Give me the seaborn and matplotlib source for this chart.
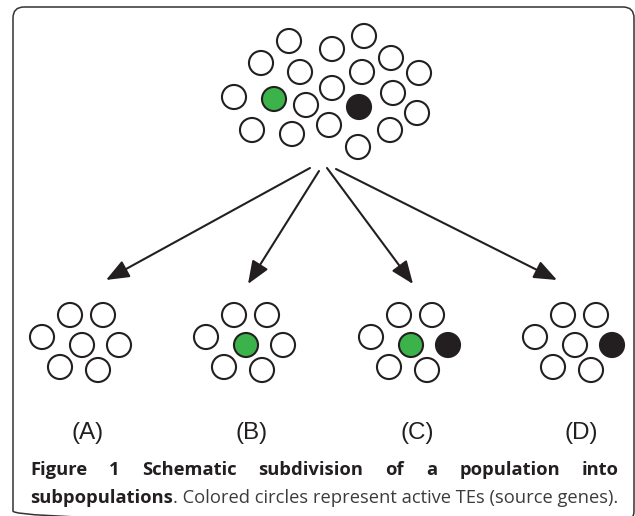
import numpy as np
import pandas as pd
import matplotlib
matplotlib.use("Agg")
import matplotlib.pyplot as plt
import seaborn as sns
from matplotlib.patches import FancyBboxPatch

#data: whole population (pixel coords of each TE circle), state 0=inactive 1=green 2=black
top_x = [289, 364, 332, 261, 300, 391, 362, 419, 234, 274, 306, 332, 359, 393, 417, 252, 292, 329, 390, 358]
top_y = [41, 36, 49, 63, 72, 58, 72, 73, 97, 99, 105, 88, 107, 93, 113, 130, 134, 125, 130, 147]
top_state = [0, 0, 0, 0, 0, 0, 0, 0, 0, 1, 0, 0, 2, 0, 0, 0, 0, 0, 0, 0]

#subpopulations: 7 circles each, offsets from the group's middle circle
sub_dx = [-12, 21, -40, 0, 37, -22, 16]
sub_dy = [-30, -30, -8, 0, 0, 22, 25]
group_x = [82, 246, 411, 575]
group_y = 345
group_labels = ["(A)", "(B)", "(C)", "(D)"]
group_states = [
    [0, 0, 0, 0, 0, 0, 0],
    [0, 0, 0, 1, 0, 0, 0],
    [0, 0, 0, 1, 2, 0, 0],
    [0, 0, 0, 0, 2, 0, 0],
]

#arrows from the population to each subpopulation
arrow_start_x = [310, 319, 327, 336]
arrow_start_y = [168, 171, 168, 169]
arrow_end_x = [106, 248, 413, 557]
arrow_end_y = [280, 284, 284, 280]

caption_line1 = ["Figure", "1", "Schematic", "subdivision", "of", "a", "population", "into"]
caption_bold2 = "subpopulations"
caption_rest2 = ". Colored circles represent active TEs (source genes)."

ink = "#231f20"
colors = {0: "white", 1: "#3bb34a", 2: ink}

#build one table of circles
rows = []
for x, y, s in zip(top_x, top_y, top_state):
    rows.append({"x": x, "y": y, "state": s})
for gx, states in zip(group_x, group_states):
    for dx, dy, s in zip(sub_dx, sub_dy, states):
        rows.append({"x": gx + dx, "y": group_y + dy, "state": s})
df = pd.DataFrame(rows)

sns.set_style("white")
fig = plt.figure(figsize=(6.35, 5.16), dpi=100)
ax = fig.add_axes([0, 0, 1, 1])
ax.set_xlim(0, 635)
ax.set_ylim(516, 0)
ax.axis("off")

#frame
frame = FancyBboxPatch((13, 7), 621, 515, boxstyle="round,pad=0,rounding_size=11",
                       fc="none", ec="#333333", lw=1.1)
ax.add_patch(frame)

sns.scatterplot(data=df, x="x", y="y", hue="state", palette=colors, s=300,
                edgecolor=ink, linewidth=1.5, legend=False, ax=ax, zorder=3)

for x0, y0, x1, y1 in zip(arrow_start_x, arrow_start_y, arrow_end_x, arrow_end_y):
    ax.annotate("", xy=(x1, y1), xytext=(x0, y0),
                arrowprops=dict(arrowstyle="-|>,head_length=1.0,head_width=0.4",
                                mutation_scale=14, lw=1.5, color=ink,
                                shrinkA=0, shrinkB=0))

for gx, lab in zip(group_x, group_labels):
    ax.text(gx + 6, 433, lab, ha="center", va="center", fontsize=17.5,
            family="Liberation Sans", color=ink)

#caption, first line justified between left and right margin
left, right = 30, 619
fs = 13.2
fig.canvas.draw()
renderer = fig.canvas.get_renderer()
words = []
for w in caption_line1:
    t = ax.text(0, 470, w, fontsize=fs, weight="bold", family="Open Sans",
                color=ink, va="center", ha="left")
    words.append(t)
widths = [t.get_window_extent(renderer).width for t in words]
gap = (right - left - sum(widths)) / (len(words) - 1)
xpos = left
for t, wd in zip(words, widths):
    t.set_x(xpos)
    xpos += wd + gap

t1 = ax.text(left, 498, caption_bold2, fontsize=fs, weight="bold", family="Open Sans",
             color=ink, va="center", ha="left")
w1 = t1.get_window_extent(renderer).width
ax.text(left + w1, 498, caption_rest2, fontsize=fs, family="Open Sans",
        color="#3c3c3c", va="center", ha="left")

fig.savefig("out.png", dpi=100)
